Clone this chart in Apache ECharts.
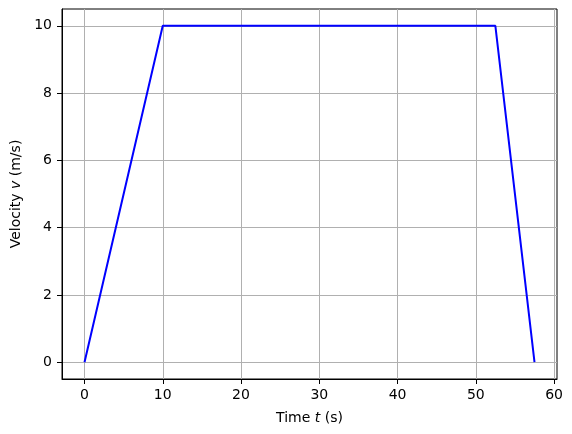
<!DOCTYPE html>
<html><head><meta charset="utf-8">
<script src="https://cdn.jsdelivr.net/npm/echarts@6/dist/echarts.min.js"></script>
<style>html,body{margin:0;padding:0;background:#fff}#c{width:572px;height:434px}</style>
</head><body><div id="c"></div>
<script>
const timeValues = [0, 10, 52.5, 57.5];
const velocityValues = [0, 10, 10, 0];
const xTicks = [0, 10, 20, 30, 40, 50, 60];
const yTicks = [0, 2, 4, 6, 8, 10];

const chart = echarts.init(document.getElementById('c'), null, {renderer: 'canvas'});
const font = 'DejaVu Sans';
const data = timeValues.map((t, i) => [t, velocityValues[i]]);
chart.setOption({
  animation: false,
  grid: {left: 62, right: 15, top: 9, bottom: 55, outerBoundsMode: 'none', show: true, borderColor: '#000', borderWidth: 1, backgroundColor: 'transparent'},
  xAxis: {
    type: 'value', min: -2.875, max: 60.375,
    axisLine: {show: true, onZero: false, lineStyle: {color: '#000', width: 1}},
    axisTick: {show: true, inside: false, customValues: xTicks, length: 5, lineStyle: {color: '#000', width: 1}},
    axisLabel: {customValues: xTicks, color: '#000', fontFamily: font, fontSize: 14, margin: 9},
    splitLine: {show: true, customValues: xTicks, lineStyle: {color: '#b0b0b0', width: 1}},
    name: '{n|Time }{i|t}{n| (s)}', nameLocation: 'middle', nameGap: 32,
    nameTextStyle: {rich: {n: {fontFamily: font, fontSize: 14, color: '#000'}, i: {fontFamily: font, fontSize: 14, fontStyle: 'italic', color: '#000'}}}
  },
  yAxis: {
    type: 'value', min: -0.5, max: 10.5,
    axisLine: {show: true, onZero: false, lineStyle: {color: '#000', width: 1}},
    axisTick: {show: true, inside: false, customValues: yTicks, length: 5, lineStyle: {color: '#000', width: 1}},
    axisLabel: {customValues: yTicks, color: '#000', fontFamily: font, fontSize: 14, margin: 10},
    splitLine: {show: true, customValues: yTicks, lineStyle: {color: '#b0b0b0', width: 1}},
    name: '{n|Velocity }{i|v}{n| (m/s)}', nameLocation: 'middle', nameGap: 39, nameRotate: 90,
    nameTextStyle: {rich: {n: {fontFamily: font, fontSize: 14, color: '#000'}, i: {fontFamily: font, fontSize: 14, fontStyle: 'italic', color: '#000'}}}
  },
  series: [{
    type: 'line', data: data, symbol: 'none',
    lineStyle: {color: '#0000ff', width: 2}
  }]
});
</script></body></html>
